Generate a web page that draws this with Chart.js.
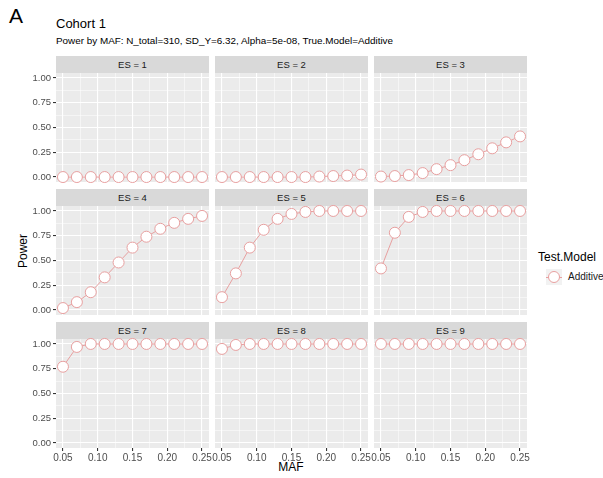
<!DOCTYPE html>
<html>
<head>
<meta charset="utf-8">
<script src="https://cdn.jsdelivr.net/npm/chart.js@4.4.1/dist/chart.umd.min.js"></script>
<style>
  body{margin:0;background:#fff;font-family:"Liberation Sans",Arial,sans-serif;}
  #wrap{position:relative;width:603px;height:478px;overflow:hidden;}
  .abs{position:absolute;}
  .strip{position:absolute;background:#D9D9D9;color:#1A1A1A;font-size:9.5px;text-align:center;line-height:17px;}
  .cv{position:absolute;}
</style>
</head>
<body>
<div id="wrap">
  <div class="abs" style="left:9px;top:4px;font-size:21px;color:#000;">A</div>
  <div class="abs" style="left:56px;top:16px;font-size:13px;color:#000;">Cohort 1</div>
  <div class="abs" style="left:56px;top:35px;font-size:9.9px;color:#000;">Power by MAF: N_total=310, SD_Y=6.32, Alpha=5e-08, True.Model=Additive</div>
  <div class="abs" style="left:-2px;top:244px;width:50px;text-align:center;font-size:12px;color:#000;transform:rotate(-90deg);transform-origin:center;">Power</div>
  <div class="abs" style="left:261px;top:460px;width:60px;text-align:center;font-size:12px;color:#000;">MAF</div>
  <div class="abs" style="left:538px;top:250px;font-size:12px;color:#000;">Test.Model</div>
  <div class="abs" style="left:546px;top:269px;width:16px;height:16px;background:#F2F2F2;"></div>
  <div class="abs" style="left:546px;top:276.5px;width:16px;height:1px;background:#E8A0A0;"></div>
  <div class="abs" style="left:548px;top:271px;width:10px;height:10px;border-radius:50%;background:#fff;border:1px solid #E8A0A0;"></div>
  <div class="abs" style="left:568px;top:271px;font-size:10px;color:#1A1A1A;">Additive</div>
</div>
<script>
// ─── DATA ───────────────────────────────────────────────────────────
const MAF = [0.05,0.07,0.09,0.11,0.13,0.15,0.17,0.19,0.21,0.23,0.25];
const ES_LABELS = ['ES = 1','ES = 2','ES = 3','ES = 4','ES = 5','ES = 6','ES = 7','ES = 8','ES = 9'];
const POWER_ES1 = [0,0,0,0,0,0,0,0,0,0,0];
const POWER_ES2 = [0,0,0,0,0,0,0,0.005,0.01,0.015,0.025];
const POWER_ES3 = [0.005,0.01,0.02,0.04,0.08,0.12,0.17,0.23,0.29,0.35,0.41];
const POWER_ES4 = [0.02,0.08,0.18,0.33,0.48,0.63,0.74,0.82,0.88,0.92,0.95];
const POWER_ES5 = [0.13,0.37,0.63,0.81,0.92,0.97,0.99,1,1,1,1];
const POWER_ES6 = [0.42,0.78,0.94,0.99,1,1,1,1,1,1,1];
const POWER_ES7 = [0.77,0.97,1,1,1,1,1,1,1,1,1];
const POWER_ES8 = [0.95,0.99,1,1,1,1,1,1,1,1,1];
const POWER_ES9 = [1,1,1,1,1,1,1,1,1,1,1];
const X_MAJOR = [0.05,0.10,0.15,0.20,0.25];
const X_MINOR = [0.075,0.125,0.175,0.225];
const Y_MAJOR = [0,0.25,0.5,0.75,1];
const Y_MINOR = [0.125,0.375,0.625,0.875];
const SERIES = [POWER_ES1,POWER_ES2,POWER_ES3,POWER_ES4,POWER_ES5,POWER_ES6,POWER_ES7,POWER_ES8,POWER_ES9];

// ─── LAYOUT ─────────────────────────────────────────────────────────
const COL_X=[56,215,374], ROW_Y=[73,206,339], PW=153, PH=109, STRIP=17;
const LINE_COL='#E8A0A0';

const panelBg={id:'panelBg',beforeDraw(c){const a=c.chartArea,x=c.ctx;x.save();x.fillStyle='#EBEBEB';x.fillRect(a.left,a.top,a.right-a.left,a.bottom-a.top);x.restore();}};

function buildTicks(major,minor){
  return [...minor.map(v=>({value:v,minor:true})),...major.map(v=>({value:v,minor:false}))];
}

const wrap=document.getElementById('wrap');
SERIES.forEach((vals,i)=>{
  const r=Math.floor(i/3), c=i%3;
  const padL=c===0?46:12, padR=12, padT=9, padB=r===2?20:9;
  const strip=document.createElement('div');
  strip.className='strip';
  strip.style.left=COL_X[c]+'px';strip.style.top=(ROW_Y[r]-STRIP)+'px';
  strip.style.width=PW+'px';strip.style.height=STRIP+'px';
  strip.textContent=ES_LABELS[i];
  wrap.appendChild(strip);
  const box=document.createElement('div');
  box.className='cv';
  box.style.left=(COL_X[c]-padL)+'px';box.style.top=(ROW_Y[r]-padT)+'px';
  box.style.width=(PW+padL+padR)+'px';box.style.height=(PH+padT+padB)+'px';
  const cv=document.createElement('canvas');
  box.appendChild(cv);wrap.appendChild(box);
  new Chart(cv,{
    type:'line',
    data:{datasets:[{data:MAF.map((m,k)=>({x:m,y:vals[k]})),borderColor:LINE_COL,borderWidth:1,
      pointRadius:5.5,pointBackgroundColor:'#fff',pointBorderColor:LINE_COL,pointBorderWidth:1,tension:0,clip:false}]},
    plugins:[panelBg],
    options:{responsive:true,maintainAspectRatio:false,animation:false,
      layout:{autoPadding:false,padding:{left:c===0?0:padL,right:padR,top:padT,bottom:r===2?0:padB}},
      plugins:{legend:{display:false},tooltip:{enabled:false}},
      scales:{
        x:{type:'linear',min:0.04,max:0.26,border:{display:false},
          afterBuildTicks:s=>{s.ticks=buildTicks(X_MAJOR,X_MINOR);},
          afterFit:s=>{s.height=r===2?padB:0;},
          grid:{color:'#fff',lineWidth:t=>t.tick&&t.tick.minor?0.5:1.1,drawTicks:r===2,tickLength:3,
            tickColor:t=>t.tick&&t.tick.minor?'rgba(0,0,0,0)':'#333'},
          ticks:{display:r===2,autoSkip:false,maxRotation:0,padding:1,color:'#4D4D4D',font:{family:'Liberation Sans',size:10},
            callback:function(v,k,ts){return ts[k].minor?'':v.toFixed(2);}}},
        y:{type:'linear',min:-0.05,max:1.05,border:{display:false},
          afterBuildTicks:s=>{s.ticks=buildTicks(Y_MAJOR,Y_MINOR);},
          afterFit:s=>{s.width=c===0?46:0;},
          grid:{color:'#fff',lineWidth:t=>t.tick&&t.tick.minor?0.5:1.1,drawTicks:c===0,tickLength:3,
            tickColor:t=>t.tick&&t.tick.minor?'rgba(0,0,0,0)':'#333'},
          ticks:{display:c===0,autoSkip:false,padding:2,color:'#4D4D4D',font:{family:'Liberation Sans',size:9.5},
            callback:function(v,k,ts){return ts[k].minor?'':v.toFixed(2);}}}
      }}
  });
});
</script>
</body>
</html>
